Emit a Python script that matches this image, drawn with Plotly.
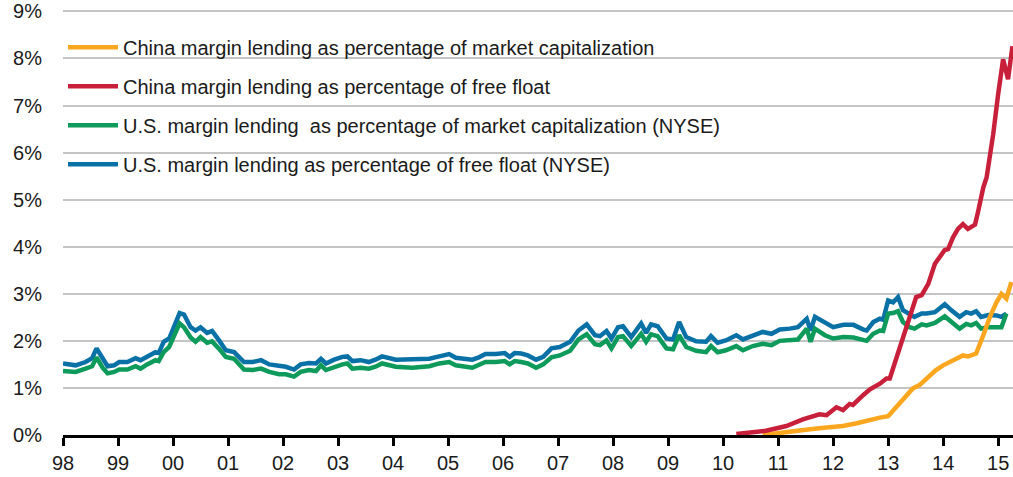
import plotly.graph_objects as go

# US margin lending, NYSE (in %), decimal-year x positions
us_x = [
    1998.0, 1998.23, 1998.41, 1998.53, 1998.61, 1998.72, 1998.81, 1998.93,
    1999.02, 1999.17, 1999.32, 1999.41, 1999.53, 1999.68, 1999.74, 1999.83, 1999.93,
    2000.02, 2000.12, 2000.2, 2000.32, 2000.41, 2000.5, 2000.62, 2000.71, 2000.83, 2000.96,
    2001.11, 2001.29, 2001.45, 2001.6, 2001.75, 2001.93,
    2002.05, 2002.2, 2002.32, 2002.47, 2002.6, 2002.69, 2002.78, 2002.93,
    2003.08, 2003.17, 2003.26, 2003.41, 2003.56, 2003.68, 2003.8,
    2004.05, 2004.35, 2004.66, 2004.84,
    2005.02, 2005.14, 2005.44, 2005.56, 2005.68, 2005.87,
    2006.03, 2006.12, 2006.21, 2006.33, 2006.45, 2006.6, 2006.73, 2006.88,
    2007.03, 2007.22, 2007.37, 2007.52, 2007.67, 2007.76, 2007.88, 2007.97,
    2008.09, 2008.18, 2008.33, 2008.51, 2008.6, 2008.69, 2008.81, 2008.97,
    2009.09, 2009.2, 2009.33, 2009.51, 2009.69, 2009.78, 2009.9,
    2010.05, 2010.24, 2010.36, 2010.54, 2010.72, 2010.88,
    2011.03, 2011.21, 2011.36, 2011.52, 2011.59, 2011.67, 2011.85,
    2012.0, 2012.19, 2012.37, 2012.55, 2012.61, 2012.73, 2012.85, 2012.91,
    2013.0, 2013.09, 2013.18, 2013.27, 2013.39, 2013.48, 2013.61, 2013.7, 2013.85,
    2014.03, 2014.15, 2014.3, 2014.42, 2014.51, 2014.6, 2014.69, 2014.82, 2014.97,
    2015.06, 2015.15,
]
us_free_float = [
    1.52, 1.48, 1.55, 1.63, 1.84, 1.63, 1.46, 1.48,
    1.55, 1.55, 1.63, 1.59, 1.67, 1.76, 1.74, 1.98, 2.05,
    2.30, 2.59, 2.56, 2.29, 2.22, 2.29, 2.17, 2.21, 2.02, 1.80,
    1.76, 1.55, 1.55, 1.59, 1.50, 1.46,
    1.45, 1.39, 1.50, 1.53, 1.52, 1.62, 1.52, 1.60,
    1.66, 1.67, 1.57, 1.59, 1.55, 1.60, 1.67,
    1.60, 1.60, 1.62, 1.67,
    1.72, 1.64, 1.60, 1.65, 1.72, 1.72,
    1.74, 1.66, 1.74, 1.73, 1.69, 1.60, 1.66, 1.84,
    1.87, 1.98, 2.22, 2.35, 2.12, 2.10, 2.21, 2.05,
    2.29, 2.31, 2.08, 2.37, 2.17, 2.35, 2.31, 2.05,
    2.03, 2.40, 2.08, 1.99, 1.98, 2.10, 1.96,
    2.01, 2.12, 2.03, 2.12, 2.19, 2.15,
    2.24, 2.26, 2.29, 2.47, 2.22, 2.51, 2.38,
    2.29, 2.34, 2.34, 2.24, 2.22, 2.40, 2.47, 2.45,
    2.86, 2.82, 2.93, 2.65, 2.58, 2.51, 2.58, 2.58, 2.61,
    2.78, 2.65, 2.51, 2.61, 2.58, 2.63, 2.51, 2.55, 2.54,
    2.51, 2.58,
]
us_market_cap = [
    1.36, 1.34, 1.41, 1.46, 1.65, 1.43, 1.31, 1.34,
    1.39, 1.39, 1.46, 1.41, 1.50, 1.59, 1.57, 1.76, 1.87,
    2.10, 2.37, 2.29, 2.07, 1.98, 2.08, 1.96, 1.99, 1.84, 1.66,
    1.62, 1.39, 1.38, 1.41, 1.34, 1.29,
    1.29, 1.24, 1.34, 1.38, 1.36, 1.48, 1.38, 1.45,
    1.50, 1.52, 1.41, 1.43, 1.41, 1.45, 1.52,
    1.45, 1.43, 1.46, 1.52,
    1.55, 1.48, 1.43, 1.48, 1.55, 1.55,
    1.57, 1.50, 1.57, 1.55, 1.52, 1.43, 1.50, 1.65,
    1.69, 1.79, 2.03, 2.14, 1.93, 1.91, 2.01, 1.84,
    2.08, 2.10, 1.89, 2.15, 1.98, 2.14, 2.10, 1.84,
    1.82, 2.12, 1.87, 1.79, 1.76, 1.89, 1.76,
    1.80, 1.89, 1.80, 1.89, 1.94, 1.91,
    2.00, 2.01, 2.03, 2.26, 1.98, 2.26, 2.12,
    2.05, 2.08, 2.07, 2.01, 2.00, 2.15, 2.22, 2.21,
    2.58, 2.59, 2.63, 2.40, 2.29, 2.26, 2.35, 2.33, 2.38,
    2.52, 2.40, 2.26, 2.36, 2.33, 2.38, 2.26, 2.29, 2.28,
    2.29, 2.58,
]

# China margin lending (in %)
cn_ff_x = [2010.24, 2010.78, 2011.15, 2011.45, 2011.75, 2011.88, 2012.06, 2012.18,
           2012.3, 2012.36, 2012.55, 2012.67, 2012.85, 2012.97, 2013.03, 2013.21,
           2013.39, 2013.51, 2013.61, 2013.73, 2013.85, 2013.94, 2014.03, 2014.09,
           2014.18, 2014.27, 2014.36, 2014.45, 2014.58, 2014.64, 2014.73, 2014.79,
           2014.91, 2015.0, 2015.09, 2015.18, 2015.26]
cn_free_float = [0.02, 0.09, 0.19, 0.33, 0.44, 0.42, 0.59, 0.53,
                 0.66, 0.64, 0.85, 0.97, 1.09, 1.20, 1.20, 1.87,
                 2.51, 2.93, 2.97, 3.21, 3.64, 3.78, 3.93, 3.95,
                 4.20, 4.38, 4.48, 4.38, 4.47, 4.77, 5.26, 5.47,
                 6.39, 7.24, 7.98, 7.56, 8.26]

cn_mc_x = [2010.72, 2011.15, 2011.58, 2011.88, 2012.18, 2012.43, 2012.67, 2012.85,
           2013.0, 2013.15, 2013.3, 2013.45, 2013.57, 2013.75, 2013.87, 2014.0,
           2014.18, 2014.36, 2014.45, 2014.6, 2014.73, 2014.85, 2014.97, 2015.06,
           2015.15, 2015.24]
cn_market_cap = [0.0, 0.07, 0.12, 0.16, 0.19, 0.25, 0.33, 0.37,
                 0.40, 0.60, 0.78, 0.99, 1.06, 1.27, 1.38, 1.48,
                 1.59, 1.69, 1.67, 1.73, 2.12, 2.51, 2.82, 3.0,
                 2.90, 3.25]

years = list(range(1998, 2016))
year_labels = ['%02d' % (y % 100) for y in years]
y_ticks = list(range(0, 10))
y_labels = ['%d%%' % v for v in y_ticks]

font = 'Liberation Sans, Arial, sans-serif'

# drawing order: blue, green, orange, red (red on top); legend order set by legendrank
series = [
    ('U.S. margin lending as percentage of free float (NYSE)', us_x, us_free_float, '#0A71A6', 4),
    ('U.S. margin lending  as percentage of market capitalization (NYSE)', us_x, us_market_cap, '#0E9A5A', 3),
    ('China margin lending as percentage of market capitalization', cn_mc_x, cn_market_cap, '#FBA61F', 1),
    ('China margin lending as percentage of free float', cn_ff_x, cn_free_float, '#C8203A', 2),
]

fig = go.Figure()
for name, xs, ys, color, rank in series:
    fig.add_trace(go.Scatter(
        x=xs, y=ys, mode='lines', name=name,
        line=dict(color=color, width=4.5),
        legendrank=rank, legendgroup=name,
    ))

fig.update_layout(
    width=1013, height=477,
    margin=dict(l=63, r=0, t=8, b=42),
    plot_bgcolor='white', paper_bgcolor='white',
    font=dict(family=font, size=20, color='#1a1a1a'),
    showlegend=True,
    legend=dict(
        x=0.0, y=0.958, xanchor='left', yanchor='top',
        bgcolor='rgba(0,0,0,0)', borderwidth=0,
        font=dict(size=20, color='#1a1a1a'),
        tracegroupgap=10, itemwidth=50,
    ),
)
fig.update_xaxes(
    range=[1998.0, 2015.27],
    tickvals=years, ticktext=year_labels,
    showgrid=False, zeroline=False,
    showline=True, linecolor='black', linewidth=3,
    ticks='outside', ticklen=8, tickwidth=3, tickcolor='black',
    tickfont=dict(size=20, color='#1a1a1a'),
)
fig.update_yaxes(
    range=[0, 9.03],
    tickvals=y_ticks, ticktext=y_labels,
    showgrid=True, gridcolor='#c4c4c4', gridwidth=2,
    zeroline=False, showline=False,
    ticks='', ticklabelstandoff=20, ticklabeloverflow='allow',
    tickfont=dict(size=20, color='#1a1a1a'),
)

fig.write_html("out.html", config={'displayModeBar': False},
               post_script="document.body.style.margin='0';")
